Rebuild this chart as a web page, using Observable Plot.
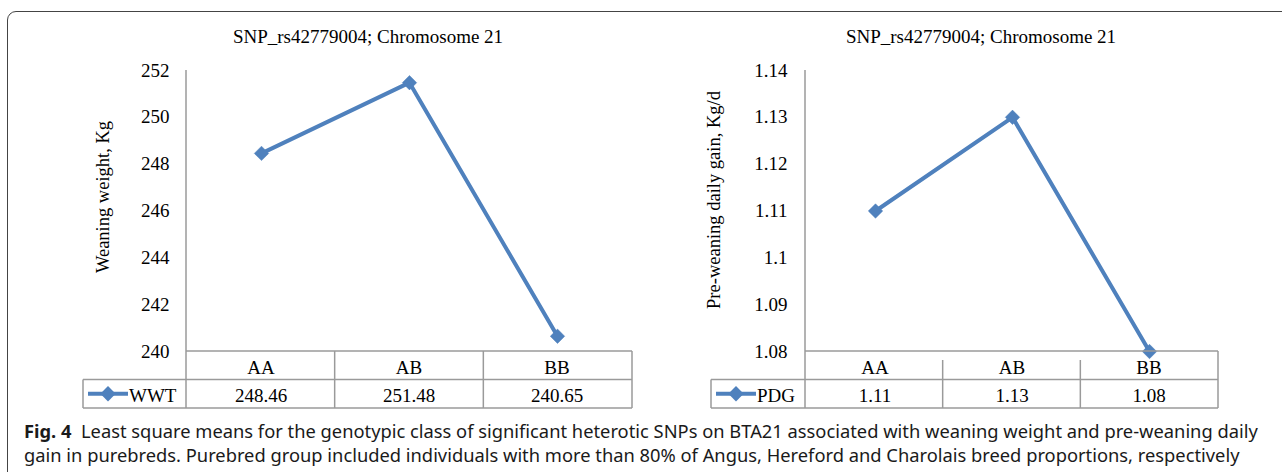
<!DOCTYPE html>
<html>
<head>
<meta charset="utf-8">
<script src="https://cdn.jsdelivr.net/npm/d3@7"></script>
<script src="https://cdn.jsdelivr.net/npm/@observablehq/plot@0.6"></script>
<style>
  html, body { margin: 0; padding: 0; background: #fff; }
  #page { position: relative; width: 1282px; height: 472px; overflow: hidden; background: #fff; }
  #frame { position: absolute; left: 7px; top: 11px; width: 1400px; height: 600px;
           border: 1.5px solid #444; border-radius: 9px; box-sizing: border-box; }
  .chart { position: absolute; top: 0; }
  #caption { position: absolute; left: 24px; top: 419px; font-family: "Noto Sans", "Open Sans", sans-serif;
             font-size: 16px; line-height: 24px; color: #1a1a1a; white-space: nowrap; }
  #caption b { font-weight: 700; }
</style>
</head>
<body>
<div id="page">
  <div id="frame"></div>
  <div id="left" class="chart" style="left:0px"></div>
  <div id="right" class="chart" style="left:640px"></div>
  <div id="caption"><span id="cap1"><b>Fig. 4</b>&nbsp; Least square means for the genotypic class of significant heterotic SNPs on BTA21 associated with weaning weight and pre-weaning daily</span><br><span id="cap2">gain in purebreds. Purebred group included individuals with more than 80% of Angus, Hereford and Charolais breed proportions, respectively</span></div>
</div>
<script>
// ---- data ----
const categories = ["AA", "AB", "BB"];
const wwtValues = [248.46, 251.48, 240.65];
const pdgValues = [1.11, 1.13, 1.08];
const wwtTicks = [240, 242, 244, 246, 248, 250, 252];
const pdgTicks = [1.08, 1.09, 1.10, 1.11, 1.12, 1.13, 1.14];
const chartTitle = "SNP_rs42779004; Chromosome 21";
const wwtLabel = "Weaning weight, Kg";
const pdgLabel = "Pre-weaning daily gain, Kg/d";
const wwtSeries = "WWT";
const pdgSeries = "PDG";

const BLUE = "#4F81BD";
const GRID = "#9a9a9a";
const SERIF = "'Liberation Serif', 'Times New Roman', serif";

function makeChart(cfg) {
  const data = categories.map((c, i) => ({cat: c, v: cfg.values[i]}));
  const H = 420, mTop = 70, mBottom = 69;
  const plot = Plot.plot({
    width: cfg.width, height: H,
    marginLeft: cfg.marginLeft, marginRight: cfg.marginRight,
    marginTop: mTop, marginBottom: mBottom,
    style: {fontFamily: SERIF, fontSize: "19px", color: "#000", background: "transparent", overflow: "visible"},
    x: {type: "point", domain: categories, padding: 0.5, axis: null},
    y: {domain: [cfg.ticks[0], cfg.ticks[cfg.ticks.length - 1]], axis: null},
    marks: [
      Plot.axisY({ticks: cfg.ticks, tickSize: 0, tickPadding: cfg.tickPadding, tickFormat: cfg.fmt,
                  label: null, fontSize: 19, fontFamily: SERIF}),
      Plot.line(data, {x: "cat", y: "v", stroke: BLUE, strokeWidth: 4, strokeLinejoin: "round"}),
      Plot.dot(data, {x: "cat", y: "v", symbol: "diamond2", r: 6.5, fill: BLUE, stroke: BLUE, strokeWidth: 0.5})
    ]
  });
  const svg = d3.select(plot);
  const xs = plot.scale("x");
  const ys = plot.scale("y");
  const x0 = xs.range[0], x1 = xs.range[1];
  const yTop = ys.range[1], yBot = ys.range[0];
  const colW = (x1 - x0) / categories.length;
  const rowH = 28.5;
  const r1 = yBot + rowH, r2 = yBot + 2 * rowH;
  const g = svg.append("g").attr("fill", "none").attr("stroke", GRID).attr("stroke-width", 1.5);
  // y axis line
  g.append("line").attr("x1", x0).attr("x2", x0).attr("y1", yTop).attr("y2", r2);
  // table horizontal lines
  g.append("line").attr("x1", x0).attr("x2", x1).attr("y1", yBot).attr("y2", yBot);
  g.append("line").attr("x1", cfg.legendLeft).attr("x2", x1).attr("y1", r1).attr("y2", r1);
  g.append("line").attr("x1", cfg.legendLeft).attr("x2", x1).attr("y1", r2).attr("y2", r2);
  // verticals
  g.append("line").attr("x1", cfg.legendLeft).attr("x2", cfg.legendLeft).attr("y1", r1).attr("y2", r2);
  g.append("line").attr("x1", x1).attr("x2", x1).attr("y1", yBot).attr("y2", r2);
  for (let i = 1; i < categories.length; i++) {
    const xx = x0 + i * colW;
    g.append("line").attr("x1", xx).attr("x2", xx).attr("y1", yBot + cfg.headerGap).attr("y2", r2);
  }
  const t = svg.append("g").attr("font-family", SERIF).attr("font-size", 19).attr("fill", "#000").attr("text-anchor", "middle");
  categories.forEach((c, i) => {
    const cx = xs.apply(c);
    t.append("text").attr("x", cx).attr("y", yBot + 23).text(c);
    t.append("text").attr("x", cx).attr("y", r1 + 22).text(cfg.values[i].toFixed(2));
  });
  // legend in table
  const ly = r1 + rowH / 2;
  svg.append("line").attr("x1", cfg.legendLeft + 5).attr("x2", cfg.legendLeft + 45).attr("y1", ly).attr("y2", ly)
     .attr("stroke", BLUE).attr("stroke-width", 4);
  svg.append("path").attr("d", d3.symbol(d3.symbolDiamond2, 150)())
     .attr("transform", `translate(${cfg.legendLeft + 25},${ly})`).attr("fill", BLUE);
  t.append("text").attr("x", cfg.legendLeft + 46).attr("y", r1 + 22).attr("text-anchor", "start").text(cfg.series);
  // title
  t.append("text").attr("x", cfg.titleX).attr("y", 43).attr("font-size", 19).text(chartTitle);
  // y label
  t.append("text").attr("transform", `translate(${cfg.labelX},${cfg.labelY}) rotate(-90)`)
   .attr("dy", "0.35em").attr("font-size", 18.5).text(cfg.label);
  return plot;
}

const fmt = d => String(+d.toFixed(2));

document.getElementById("left").appendChild(makeChart({
  values: wwtValues, ticks: wwtTicks, fmt, series: wwtSeries, label: wwtLabel,
  width: 640, marginLeft: 186, marginRight: 8, tickPadding: 17,
  legendLeft: 83, headerGap: 0, titleX: 368, labelX: 103, labelY: 197
}));
document.getElementById("right").appendChild(makeChart({
  values: pdgValues, ticks: pdgTicks, fmt, series: pdgSeries, label: pdgLabel,
  width: 642, marginLeft: 165, marginRight: 64, tickPadding: 18,
  legendLeft: 71, headerGap: 9, titleX: 341, labelX: 74, labelY: 200
}));

// fit caption first line to the reference width
const cap = document.getElementById("caption");
const c1 = document.getElementById("cap1");
const target = 1234;
const w = c1.getBoundingClientRect().width;
cap.style.fontSize = (16 * target / w).toFixed(2) + "px";
</script>
</body>
</html>
